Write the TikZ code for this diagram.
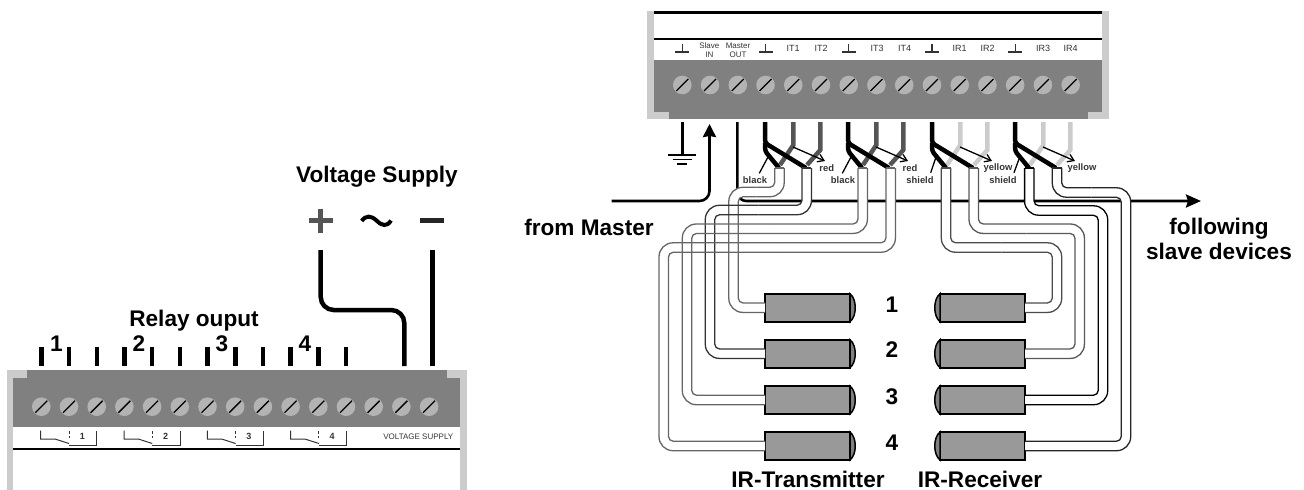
\documentclass[tikz,border=0pt]{standalone}
\usepackage{fontspec}
\setmainfont{Liberation Sans}
\usetikzlibrary{calc,arrows.meta}

\definecolor{blockgray}{HTML}{808080}
\definecolor{framegray}{HTML}{CCCCCC}
\definecolor{screwgray}{HTML}{B3B3B3}
\definecolor{sensorgray}{HTML}{999999}
\definecolor{wiregray}{HTML}{555555}
\definecolor{inkgray}{HTML}{333333}

% One outline of a cable, and the whole cable for each side
\newcommand{\cableedge}[8]{
    \coordinate (cm) at ($(#1)!.5!(#2,#3)$);
    \coordinate (ch) at (#2+#5,#3+#6);
    \draw[cableline,rounded corners=#7] ($(#1)+(#5,0)$) |- (cm |- ch);
    \draw[cableline,rounded corners=#8] (cm |- ch) -- (ch) |- ($(#4)-(0,#6)$);
}
\newcommand{\txcable}[5]{
    \begin{scope}[draw=#5]
        \cableedge{#1}{#2}{#3}{#4}{-4.7}{-4.7}{5}{14}
        \cableedge{#1}{#2}{#3}{#4}{4.7}{4.7}{14}{5}
        \draw[cableline] ($(#1)+(-4.7,0)$) -- ($(#1)+(4.7,0)$);
    \end{scope}
}
\newcommand{\rxcable}[5]{
    \begin{scope}[draw=#5]
        \cableedge{#1}{#2}{#3}{#4}{-4.7}{4.7}{14}{5}
        \cableedge{#1}{#2}{#3}{#4}{4.7}{-4.7}{5}{14}
        \draw[cableline] ($(#1)+(-4.7,0)$) -- ($(#1)+(4.7,0)$);
    \end{scope}
}
% Black and coloured pair going into two cables
\newcommand{\wirepair}[2]{
    \begin{scope}[xshift=#1pt]
        \draw[wirelead,#2] (793.3,122) -- (793.3,145) -- (780,165);
        \draw[wirelead,#2] (820.3,122) -- (820.3,150) -- (807,165);
        \draw[wirelead,rounded corners=3] (765,122) -- (765,143) -- (806,168);
        \draw[wirelead,rounded corners=3] (765,143) -- (765,151) -- (779,168);
        \draw[thinlead,-{Straight Barb[length=6pt,width=8pt]}] (793,147) -- (825,161);
    \end{scope}
}

\begin{document}
\begin{tikzpicture}[x=1pt,y=-1pt,
    heading/.style={font=\fontsize{22.6}{25}\selectfont\bfseries,text=black,inner sep=0pt},
    wirelabel/.style={font=\fontsize{9.4}{11}\selectfont\bfseries,text=inkgray,inner sep=0pt},
    termlabel/.style={font=\fontsize{9}{9}\selectfont,text=inkgray,inner sep=0pt},
    smalllabel/.style={font=\fontsize{8}{9}\selectfont,text=inkgray,inner sep=0pt,align=center},
    screw/.style={circle,fill=screwgray,minimum size=18.6pt,inner sep=0pt},
    sensor/.style={rectangle,draw=black,fill=sensorgray,line width=2pt,minimum width=85pt,minimum height=27.7pt,inner sep=0pt,outer sep=0pt},
    wirelead/.style={line width=4.5pt},
    thinlead/.style={line width=1.3pt},
    tick/.style={line width=4.5pt},
    contact/.style={line width=1pt,inkgray},
    cableback/.style={white,line width=9.4pt,rounded corners=9.5},
    cableline/.style={line width=1.3pt},
]
    \useasboundingbox (0,0) rectangle (1304,490);

    % Left block
    \fill[framegray] (6.7,370) rectangle (13.3,490);
    \fill[framegray] (460.3,370) rectangle (467,490);
    \fill[blockgray] (6.7,370) rectangle (467,427);
    \fill[framegray] (6.7,370) rectangle (27.3,378);
    \fill[framegray] (447,370) rectangle (467,378);
    \fill[framegray] (6.7,370) rectangle (13.3,427);
    \fill[framegray] (460.3,370) rectangle (467,427);
    \draw[line width=2pt] (13.3,449) -- (460.3,449);

    % Draw screws and terminals
    \foreach \i in {0,...,14} {
        \node[screw] (ls\i) at (41.3+27.7*\i,406.7) {};
        \draw[line width=1.3pt] ($(ls\i)+(-6,6)$) -- ($(ls\i)+(6,-6)$);
    }
    \foreach \i in {0,...,11}
        \draw[tick] (41.4+27.7*\i,347) -- (41.4+27.7*\i,366);

    % Relay contacts
    \foreach \i/\t in {0/1,1/2,2/3,3/4} {
        \begin{scope}[xshift=83.3*\i pt]
            \draw[contact] (40.7,430.7) -- (40.7,439) -- (55,439) -- (69,443.5);
            \draw[contact,dash pattern=on 3pt off 2pt] (69,431) -- (69,438);
            \draw[contact] (69,445) -- (96.7,445) -- (96.7,430.7);
            \node[termlabel,font=\fontsize{9}{9}\selectfont\bfseries] (rn\i) at (82.3,436.5) {\t};
        \end{scope}
    }
    \node[smalllabel] (vs) at (418.3,437) {VOLTAGE SUPPLY};
    \node[heading] (relay) at (194,320.5) {Relay ouput};
    \node[heading] (r1) at (56.5,344) {1};
    \node[heading] (r2) at (139,344) {2};
    \node[heading] (r3) at (222,344) {3};
    \node[heading] (r4) at (305,344) {4};

    % Voltage supply
    \node[heading] (supply) at (377,176.5) {Voltage Supply};
    \draw[wiregray,line width=5pt] (308.7,220.7) -- (332.7,220.7) (320.7,208.7) -- (320.7,232.7);
    \draw[line width=4pt] (361.7,221) .. controls (366,215) and (371,215.5) .. (376.5,220.5) .. controls (382,226) and (387,227) .. (391,220.5);
    \draw[black!85,line width=5pt] (420,220.3) -- (444,220.3);
    \draw[line width=4.5pt,rounded corners=13] (320.7,250) -- (320.7,310) -- (404.3,310) -- (404.3,366);
    \draw[line width=4.5pt] (432.3,250) -- (432.3,366);

    % Right block
    \fill[framegray] (647.3,11.3) rectangle (654,118.7);
    \fill[framegray] (1102,11.3) rectangle (1109,118.7);
    \fill[blockgray] (654,60) rectangle (1102,118.7);
    \fill[framegray] (647.3,112) rectangle (668.5,118.7);
    \fill[framegray] (1087.7,112) rectangle (1109,118.7);
    \draw[line width=2.5pt] (654,12.5) -- (1102,12.5);
    \draw[line width=2pt] (654,39) -- (1102,39);

    % Draw screws and captions
    \foreach \i in {0,...,14} {
        \node[screw] (rs\i) at (682.3+27.74*\i,85) {};
        \draw[line width=1.3pt] ($(rs\i)+(-6,6)$) -- ($(rs\i)+(6,-6)$);
    }
    \foreach \i in {0,3,6,9,12}
        \draw[line width=1.1pt,inkgray] (682.3+27.74*\i-7,52) -- (682.3+27.74*\i+7,52) (682.3+27.74*\i,43.5) -- (682.3+27.74*\i,52);
    \node[smalllabel] (slave) at (709.3,50.5) {Slave\\IN};
    \node[smalllabel] (master) at (738,50.5) {Master\\OUT};
    \node[termlabel] (it1) at (793,48.7) {IT1};
    \node[termlabel] (it2) at (821,48.7) {IT2};
    \node[termlabel] (it3) at (877,48.7) {IT3};
    \node[termlabel] (it4) at (904.5,48.7) {IT4};
    \node[termlabel] (ir1) at (959.5,48.7) {IR1};
    \node[termlabel] (ir2) at (987.5,48.7) {IR2};
    \node[termlabel] (ir3) at (1043,48.7) {IR3};
    \node[termlabel] (ir4) at (1070.7,48.7) {IR4};

    % Draw ground
    \draw[line width=3pt] (682.3,122) -- (682.3,155);
    \draw[line width=1.7pt] (668.3,155) -- (696.3,155);
    \draw[line width=1.7pt] (672.5,159.5) -- (692,159.5);
    \draw[line width=2pt] (677,164) -- (687,164);

    % Master line and bus
    \draw[line width=2.6pt,-{Stealth[length=13pt,width=13pt,inset=1pt]},rounded corners=10] (611.7,201) -- (709.5,201) -- (709.5,124);
    \draw[line width=2.6pt,-{Stealth[length=15pt,width=13pt,inset=2pt]},rounded corners=9] (737.3,122) -- (737.3,201) -- (1201,201);
    \node[heading] (frommaster) at (589,227) {from Master};
    \node[heading,align=center] (following) at (1219,238.5) {following\\slave devices};

    % Draw wires
    \wirepair{0}{wiregray}
    \wirepair{83}{wiregray}
    \wirepair{167}{framegray}
    \wirepair{250}{framegray}
    \draw[thinlead] (759.3,173.3) -- (768,157);
    \draw[thinlead] (842.3,173.3) -- (851,157);
    \draw[thinlead] (930.7,172.7) -- (936,157);
    \draw[thinlead] (1014,172.7) -- (1019,159);
    \node[wirelabel] (l1) at (755,180) {black};
    \node[wirelabel] (l2) at (826.7,167.7) {red};
    \node[wirelabel] (l3) at (843,180) {black};
    \node[wirelabel] (l4) at (910,167.7) {red};
    \node[wirelabel] (l5) at (920,180) {shield};
    \node[wirelabel] (l6) at (998,167.7) {yellow};
    \node[wirelabel] (l7) at (1003,180) {shield};
    \node[wirelabel] (l8) at (1082,167.7) {yellow};

    % Sensors
    \node[sensor] (tx1) at (807.5,307.7) {};
    \node[sensor] (tx2) at (807.5,353.7) {};
    \node[sensor] (tx3) at (807.5,400) {};
    \node[sensor] (tx4) at (807.5,446) {};
    \node[sensor] (rx1) at (982.5,307.7) {};
    \node[sensor] (rx2) at (982.5,353.7) {};
    \node[sensor] (rx3) at (982.5,400) {};
    \node[sensor] (rx4) at (982.5,446) {};
    \foreach \n in {tx1,tx2,tx3,tx4}
        \draw[fill=blockgray,line width=1.5pt] (\n.north east) .. controls ($(\n.north east)+(7,5)$) and ($(\n.south east)+(7,-5)$) .. (\n.south east) -- cycle;
    \foreach \n in {rx1,rx2,rx3,rx4}
        \draw[fill=blockgray,line width=1.5pt] (\n.north west) .. controls ($(\n.north west)+(-7,5)$) and ($(\n.south west)+(-7,-5)$) .. (\n.south west) -- cycle;

    % Cable tops
    \coordinate (tt1) at (779.5,168);
    \coordinate (tt2) at (806.7,168);
    \coordinate (tt3) at (862.7,168);
    \coordinate (tt4) at (890.7,168);
    \coordinate (rt1) at (946,168);
    \coordinate (rt2) at (973.7,168);
    \coordinate (rt3) at (1029.3,168);
    \coordinate (rt4) at (1057,168);

    % White inside of cables
    \draw[cableback] (tt1) |- (733.5,192) |- (tx1.west);
    \draw[cableback] (tt2) |- (710,210) |- (tx2.west);
    \draw[cableback] (tt3) |- (687,228.7) |- (tx3.west);
    \draw[cableback] (tt4) |- (663.7,247.5) |- (tx4.west);
    \draw[cableback] (rt1) |- (1057,247.5) |- (rx1.east);
    \draw[cableback] (rt2) |- (1079.7,228.7) |- (rx2.east);
    \draw[cableback] (rt3) |- (1103,210.5) |- (rx3.east);
    \draw[cableback] (rt4) |- (1126,192.5) |- (rx4.east);

    % Cable outlines
    \txcable{tt1}{733.5}{192}{tx1.west}{black!60}
    \txcable{tt2}{710}{210}{tx2.west}{black!80}
    \txcable{tt3}{687}{228.7}{tx3.west}{black!60}
    \txcable{tt4}{663.7}{247.5}{tx4.west}{black!60}
    \rxcable{rt1}{1057}{247.5}{rx1.east}{black!70}
    \rxcable{rt2}{1079.7}{228.7}{rx2.east}{black!65}
    \rxcable{rt3}{1103}{210.5}{rx3.east}{black}
    \rxcable{rt4}{1126}{192.5}{rx4.east}{black!85}

    % Sensor numbers and captions
    \node[heading] (n1) at (892,304.5) {1};
    \node[heading] (n2) at (892,350) {2};
    \node[heading] (n3) at (892,397) {3};
    \node[heading] (n4) at (892,443) {4};
    \node[heading] (irt) at (808,479) {IR-Transmitter};
    \node[heading] (irr) at (980,479) {IR-Receiver};
\end{tikzpicture}
\end{document}
